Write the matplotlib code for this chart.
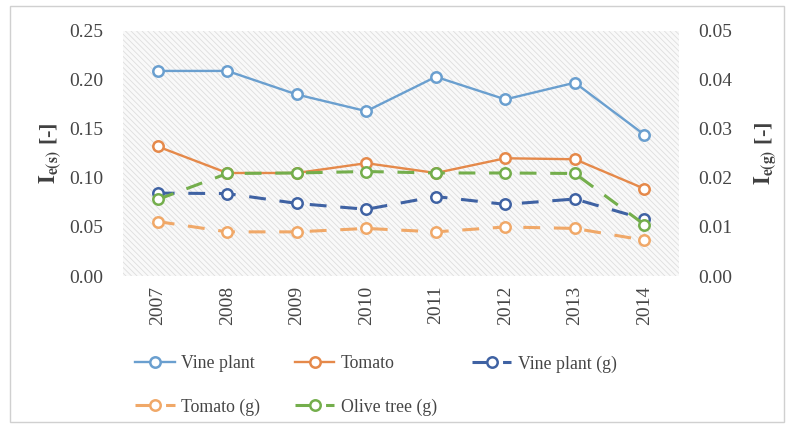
import numpy as np
import matplotlib
matplotlib.use("Agg")
import matplotlib.pyplot as plt
from matplotlib.patches import Rectangle

years = ["2007", "2008", "2009", "2010", "2011", "2012", "2013", "2014"]

# left axis, I_e(s)
vine_plant = [0.209, 0.209, 0.185, 0.168, 0.203, 0.180, 0.197, 0.144]
tomato = [0.132, 0.105, 0.105, 0.115, 0.105, 0.120, 0.119, 0.089]

# right axis, I_e(g)
vine_plant_g = [0.0169, 0.0168, 0.0148, 0.0136, 0.0162, 0.0146, 0.0157, 0.0116]
tomato_g = [0.0111, 0.0090, 0.0090, 0.0097, 0.0090, 0.0100, 0.0097, 0.0073]
olive_tree_g = [0.0156, 0.0209, 0.0210, 0.0213, 0.0210, 0.0210, 0.0209, 0.0105]

C_VINE = "#6A9FCF"
C_TOM = "#E5894A"
C_VINE_G = "#3F62A3"
C_TOM_G = "#F0A868"
C_OLIVE = "#74AE4C"

plt.rcParams["font.family"] = ["Liberation Serif", "DejaVu Serif"]
plt.rcParams["mathtext.fontset"] = "stix"

fig = plt.figure(figsize=(7.86, 4.24), dpi=100)
ax = fig.add_axes([0.1565, 0.349, 0.7075, 0.5786])
ax2 = ax.twinx()

# hatched light-grey plot area
plt.rcParams["hatch.linewidth"] = 0.6
ax.add_patch(Rectangle((0, 0), 1, 1, transform=ax.transAxes, facecolor="#f9f9f9",
                       edgecolor="#dedede", hatch="\\\\\\\\\\\\", lw=0, zorder=0))

x = np.arange(len(years))
mk = dict(marker="o", markersize=7.5, markerfacecolor="white", markeredgewidth=1.8)
dash = (5.5, 4.5)

l1, = ax.plot(x, vine_plant, color=C_VINE, lw=1.7, markeredgecolor=C_VINE, label="Vine plant", **mk)
l2, = ax.plot(x, tomato, color=C_TOM, lw=1.7, markeredgecolor=C_TOM, label="Tomato", **mk)
l3, = ax2.plot(x, vine_plant_g, color=C_VINE_G, lw=2.2, dashes=dash,
               markeredgecolor=C_VINE_G, label="Vine plant (g)", **mk)
l4, = ax2.plot(x, tomato_g, color=C_TOM_G, lw=2.2, dashes=dash,
               markeredgecolor=C_TOM_G, label="Tomato (g)", **mk)
l5, = ax2.plot(x, olive_tree_g, color=C_OLIVE, lw=2.2, dashes=dash,
               markeredgecolor=C_OLIVE, label="Olive tree (g)", **mk)

ax.set_xlim(-0.5, len(years) - 0.5)
ax.set_ylim(0, 0.25)
ax2.set_ylim(0, 0.05)
ax.set_yticks(np.arange(0, 0.251, 0.05))
ax2.set_yticks(np.arange(0, 0.051, 0.01))
ax.set_yticklabels([f"{v:.2f}" for v in np.arange(0, 0.251, 0.05)])
ax2.set_yticklabels([f"{v:.2f}" for v in np.arange(0, 0.051, 0.01)])
ax.set_xticks(x)
ax.set_xticklabels(years, rotation=90)

for a in (ax, ax2):
    for s in a.spines.values():
        s.set_visible(False)
    a.tick_params(length=0, labelsize=14, colors="#454545", pad=14)
ax.tick_params(axis="x", pad=7)

ax.set_ylabel(r"$\mathbf{I_{e(s)}}$ [-]", fontsize=16, fontweight="bold", color="#404040", labelpad=4)
ax2.set_ylabel(r"$\mathbf{I_{e(g)}}$ [-]", fontsize=16, fontweight="bold", color="#404040", labelpad=14)

# column-first fill, so order gives rows: Vine, Tomato, Vine(g) / Tomato(g), Olive
fig.legend(handles=[l1, l4, l2, l5, l3], loc="upper left", bbox_to_anchor=(0.152, 0.2),
           ncol=3, frameon=False, fontsize=12.8, handlelength=2.2, handletextpad=0.35,
           columnspacing=2.0, labelspacing=1.45, labelcolor="#454545")

fig.add_artist(Rectangle((0.013, 0.004), 0.985, 0.982, transform=fig.transFigure,
                         fill=False, edgecolor="#d0d0d0", lw=1))

fig.savefig("out.png", dpi=100)
